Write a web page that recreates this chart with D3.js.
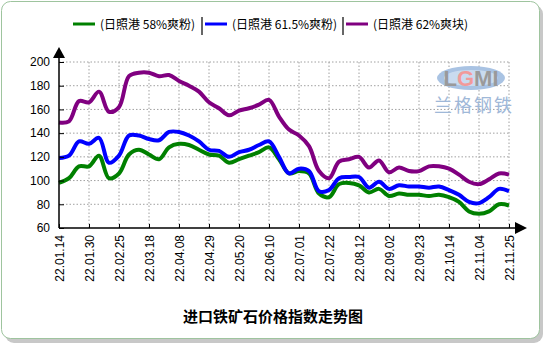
<!DOCTYPE html>
<html>
<head>
<meta charset="utf-8">
<script src="https://cdn.jsdelivr.net/npm/d3@7"></script>
<style>
  body { margin: 0; background: #fff; }
  text { font-family: "Liberation Sans", Arial, sans-serif; }
  .cjk { font-family: "Noto Sans CJK SC", sans-serif; }
</style>
</head>
<body>
<div id="chart"></div>
<script>
// weekly dates, every third one is labelled
const dates = [
  '22.01.14','22.01.21','22.01.27','22.01.30','22.02.11','22.02.18','22.02.25','22.03.04','22.03.11',
  '22.03.18','22.03.25','22.04.01','22.04.08','22.04.15','22.04.22','22.04.29','22.05.06','22.05.13',
  '22.05.20','22.05.27','22.06.02','22.06.10','22.06.17','22.06.24','22.07.01','22.07.08','22.07.15',
  '22.07.22','22.07.29','22.08.05','22.08.12','22.08.19','22.08.26','22.09.02','22.09.09','22.09.16',
  '22.09.23','22.09.30','22.10.07','22.10.14','22.10.21','22.10.28','22.11.04','22.11.11','22.11.18',
  '22.11.25'
];
const tickLabels = dates.filter((d, i) => i % 3 === 0);

const fines58 = [98,102,112,112,121,102,106,122,126,122,118,128,131,130,126,122,121,115,118,121,124,128,118,106,108,106,89,86,97,98,96,90,93,87,89,88,88,87,88,86,82,74,72,74,80,79];
const fines615 = [119,121,133,131,136,115,121,138,138,135,134,141,141,138,133,126,125,120,124,126,130,133,120,106,110,108,91,92,102,103,103,94,99,93,96,95,95,94,95,92,88,82,81,86,93,91];
const lump62 = [149,150,167,166,175,158,162,188,191,191,188,189,184,180,175,166,161,155,159,161,164,168,154,143,138,129,108,102,116,118,120,111,117,107,111,108,108,112,112,110,105,99,97,101,106,105];

const seriesNames = ['(日照港 58%爽粉)', '(日照港 61.5%爽粉)', '(日照港 62%爽块)'];
const seriesColors = ['#008000', '#0000ff', '#800080'];
const yTicks = [60, 80, 100, 120, 140, 160, 180, 200];

const W = 550, H = 350;
const svg = d3.select('#chart').append('svg').attr('width', W).attr('height', H);

// frame with shadow
svg.append('rect').attr('x', 5).attr('y', 5).attr('width', 538).attr('height', 338)
  .attr('rx', 9).attr('fill', '#c8c8c8');
svg.append('rect').attr('x', 1.5).attr('y', 1.5).attr('width', 538).attr('height', 337)
  .attr('rx', 9).attr('fill', '#fff').attr('stroke', '#9ec49e');

const x = d3.scalePoint().domain(dates).range([59, 509]);
const y = d3.scaleLinear().domain([60, 200]).range([228, 62]);

// grid
const grid = svg.append('g').attr('stroke', '#a0a0a0').attr('stroke-dasharray', '1.5,2');
grid.selectAll('.h').data(yTicks.slice(1)).enter().append('line')
  .attr('x1', 59).attr('x2', 509).attr('y1', d => y(d)).attr('y2', d => y(d));
grid.selectAll('.v').data(tickLabels.slice(1)).enter().append('line')
  .attr('x1', d => x(d)).attr('x2', d => x(d)).attr('y1', 62).attr('y2', 228);

// logo
const logo = svg.append('g');
logo.append('ellipse').attr('cx', 471).attr('cy', 78).attr('rx', 34).attr('ry', 12).attr('fill', '#a9c3e3');
logo.append('ellipse').attr('cx', 471).attr('cy', 78).attr('rx', 27).attr('ry', 8).attr('fill', '#c9dbef');
const lg = logo.append('text').attr('x', 471).attr('y', 86).attr('text-anchor', 'middle')
  .attr('font-size', 22).attr('font-weight', 'bold').attr('fill', '#9a9a9a');
lg.append('tspan').text('L');
lg.append('tspan').attr('fill', '#f29a9a').text('G');
lg.append('tspan').text('MI');
logo.append('text').attr('class', 'cjk').attr('x', 474).attr('y', 112).attr('text-anchor', 'middle')
  .attr('font-size', 18).attr('fill', '#9fb8d8').attr('letter-spacing', 2).text('兰格钢铁');

// lines
const line = d3.line().x((d, i) => x(dates[i])).y(d => y(d)).curve(d3.curveCatmullRom.alpha(0.5));
[fines58, fines615, lump62].forEach((s, k) => {
  svg.append('path').datum(s).attr('d', line).attr('fill', 'none')
    .attr('stroke', seriesColors[k]).attr('stroke-width', 4).attr('stroke-linejoin', 'round');
});

// axes
const yAxis = svg.append('g').attr('transform', 'translate(59,0)')
  .call(d3.axisLeft(y).tickValues(yTicks).tickSize(-5).tickPadding(9));
yAxis.select('.domain').remove();
yAxis.selectAll('text').attr('font-size', 12).attr('fill', '#000');
svg.append('line').attr('x1', 59).attr('x2', 59).attr('y1', 58).attr('y2', 228).attr('stroke', '#000').attr('stroke-width', 1.5);
svg.append('path').attr('d', 'M59,47 L53,58 L65,58 Z').attr('fill', '#000');

const xAxis = svg.append('g').attr('transform', 'translate(0,228)')
  .call(d3.axisBottom(x).tickValues(tickLabels).tickSize(-4).tickPadding(7));
xAxis.select('.domain').remove();
xAxis.selectAll('text').attr('font-size', 12).attr('fill', '#000')
  .attr('transform', 'rotate(-90)').attr('text-anchor', 'end')
  .attr('x', -7).attr('y', 0).attr('dy', '0.35em');
svg.append('line').attr('x1', 59).attr('x2', 516).attr('y1', 228).attr('y2', 228).attr('stroke', '#000').attr('stroke-width', 1.5);
svg.append('path').attr('d', 'M527,228 L515,222 L515,234 Z').attr('fill', '#000');

// legend
const legendX = [73, 205, 346];
const legend = svg.append('g');
seriesNames.forEach((n, k) => {
  legend.append('line').attr('x1', legendX[k]).attr('x2', legendX[k] + 22).attr('y1', 24).attr('y2', 24)
    .attr('stroke', seriesColors[k]).attr('stroke-width', 3);
  legend.append('text').attr('class', 'cjk').attr('x', legendX[k] + 27).attr('y', 28.5)
    .attr('font-size', 12).attr('fill', '#000').text(n);
});
[202, 343].forEach(px => {
  legend.append('line').attr('x1', px).attr('x2', px).attr('y1', 17).attr('y2', 35)
    .attr('stroke', '#333').attr('stroke-width', 1.5);
});

// title
svg.append('text').attr('class', 'cjk').attr('x', 273).attr('y', 322).attr('text-anchor', 'middle')
  .attr('font-size', 15).attr('font-weight', 'bold').attr('fill', '#000').text('进口铁矿石价格指数走势图');
</script>
</body>
</html>
